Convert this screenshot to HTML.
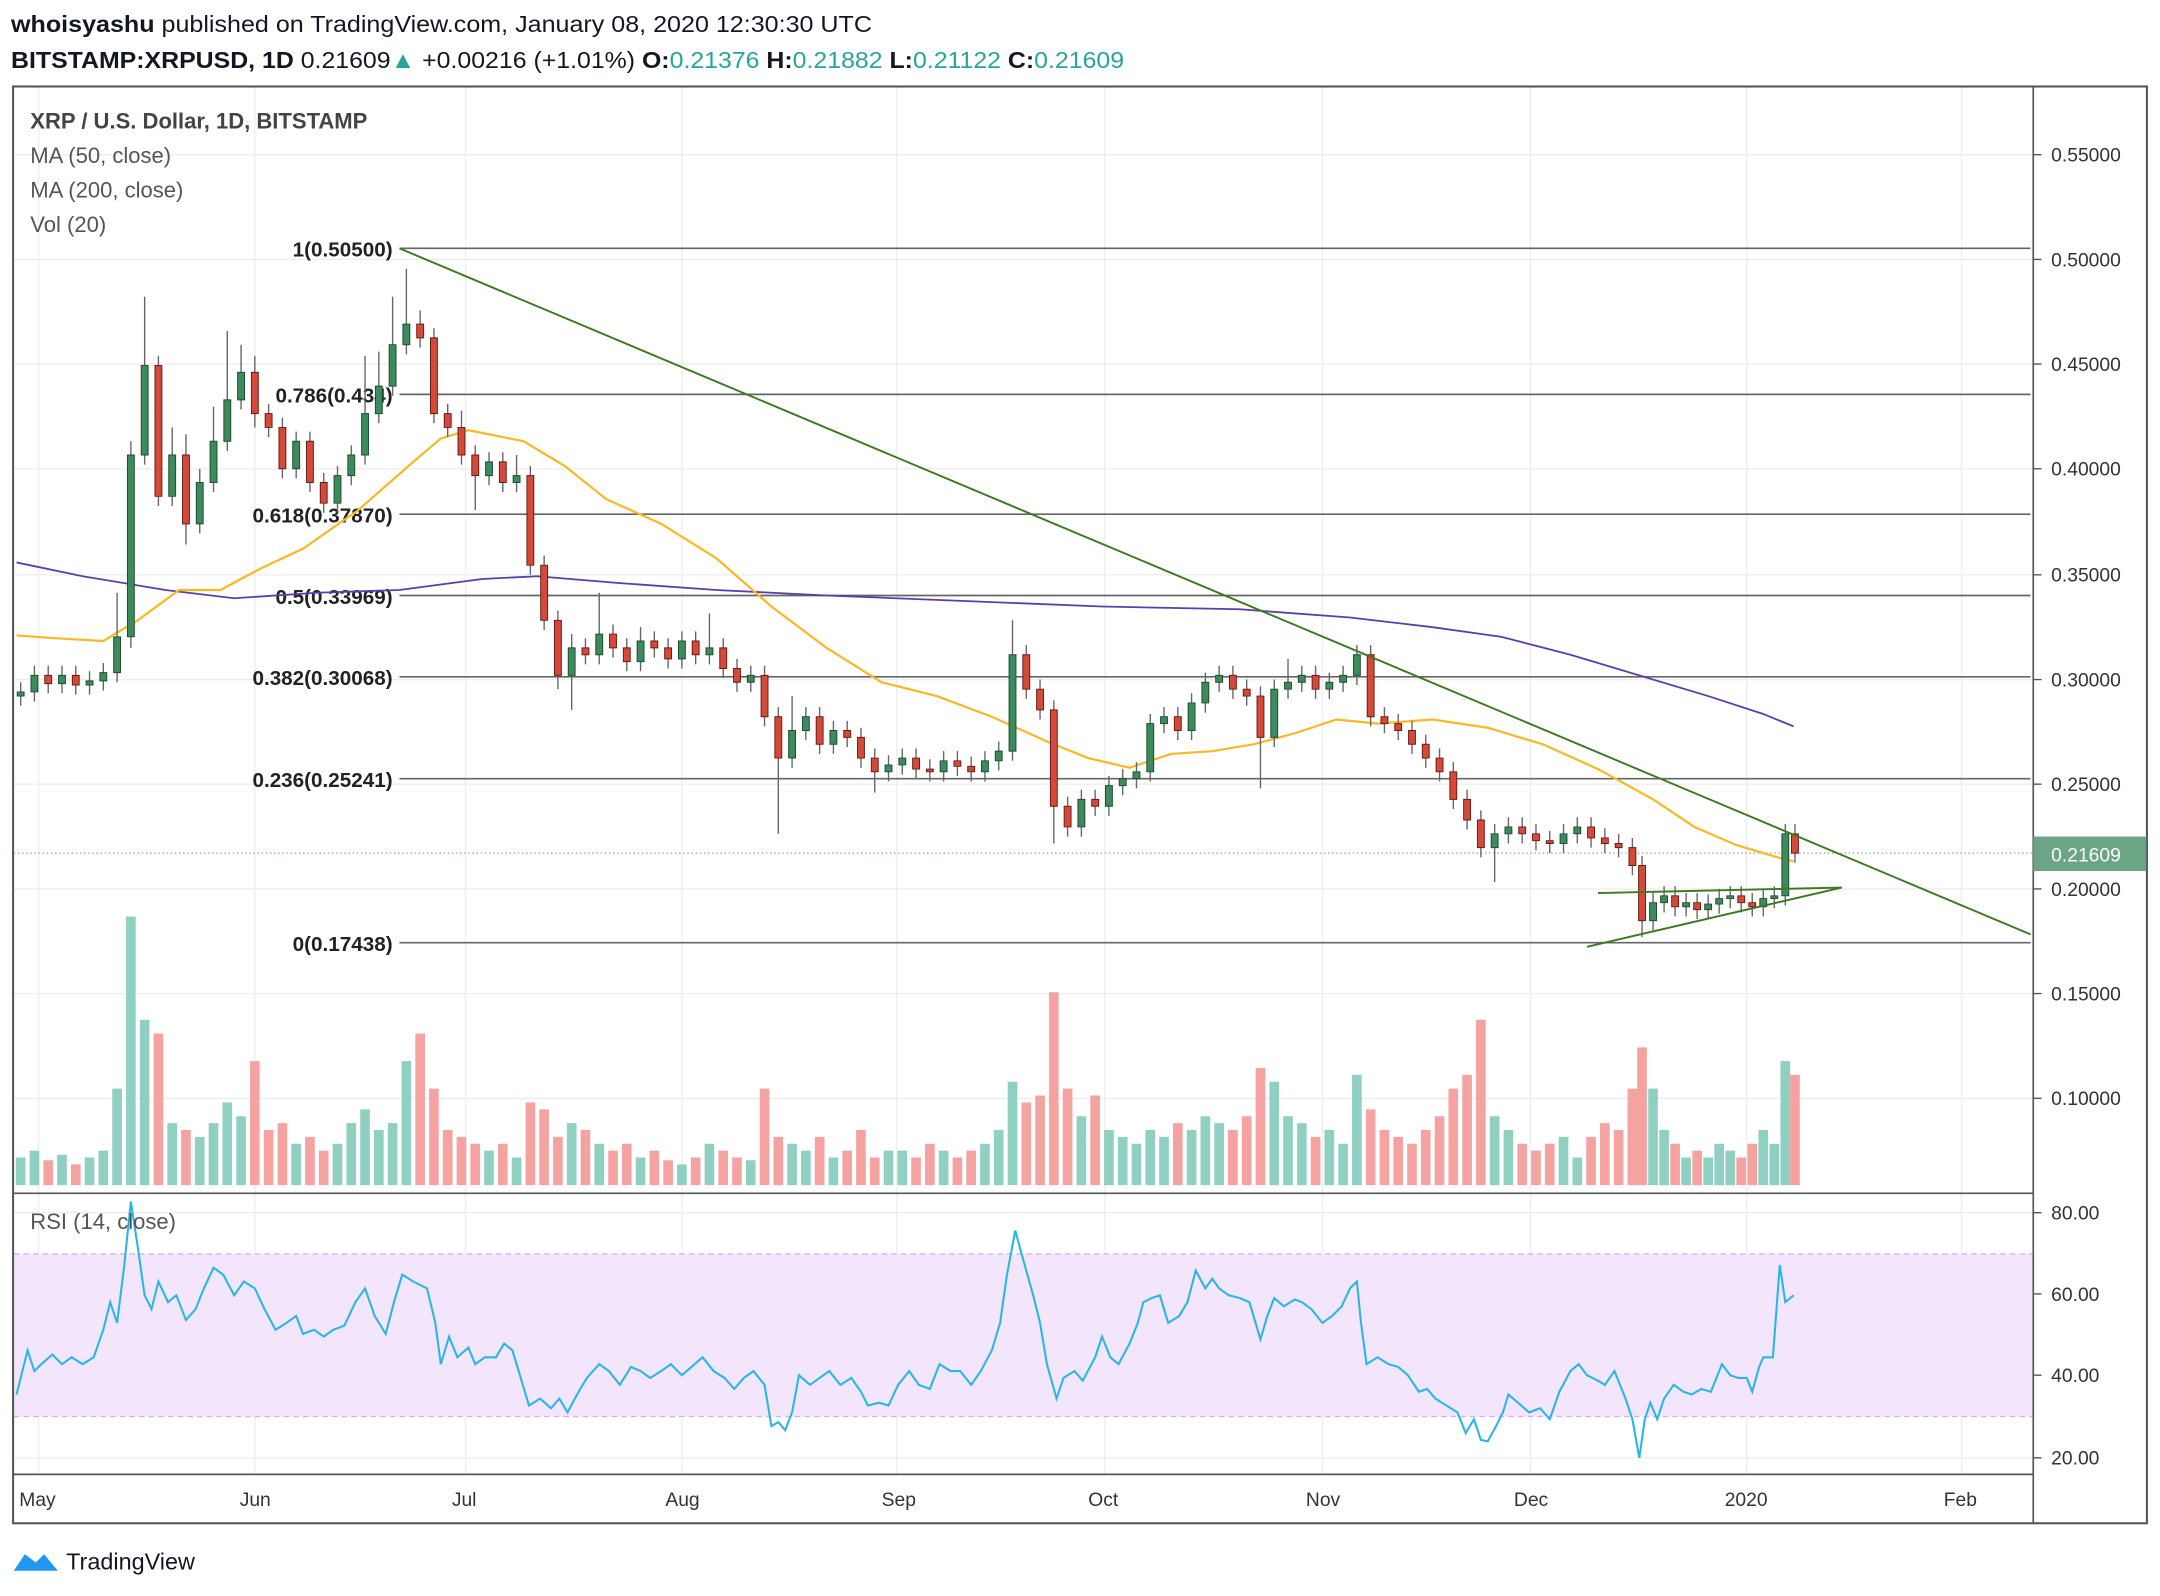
<!DOCTYPE html>
<html><head><meta charset="utf-8"><style>
html,body{margin:0;padding:0;background:#fff;}
svg{display:block;}
text{font-family:"Liberation Sans",sans-serif;}
</style></head><body>
<svg width="2160" height="1596" viewBox="0 0 1568 1158" xmlns="http://www.w3.org/2000/svg">
<rect width="1568" height="1158" fill="#fff"/>
<text x="8" y="23" font-size="17" fill="#131722" textLength="625" lengthAdjust="spacingAndGlyphs"><tspan font-weight="bold">whoisyashu</tspan> published on TradingView.com, January 08, 2020 12:30:30 UTC</text>
<text x="8" y="49" font-size="17" fill="#131722" textLength="808" lengthAdjust="spacingAndGlyphs"><tspan font-weight="bold">BITSTAMP:XRPUSD, 1D</tspan> 0.21609<tspan fill="#26a69a">▲</tspan> +0.00216 (+1.01%) <tspan font-weight="bold">O:</tspan><tspan fill="#26a69a">0.21376</tspan> <tspan font-weight="bold">H:</tspan><tspan fill="#26a69a">0.21882</tspan> <tspan font-weight="bold">L:</tspan><tspan fill="#26a69a">0.21122</tspan> <tspan font-weight="bold">C:</tspan><tspan fill="#26a69a">0.21609</tspan></text>
<g stroke="#eeeeee" stroke-width="1">
<path d="M28 63V1070M185 63V1070M338 63V1070M495 63V1070M651 63V1070M802 63V1070M960 63V1070M1111 63V1070M1268 63V1070M1424 63V1070"/>
<path d="M10 112H1476M10 188H1476M10 264H1476M10 340H1476M10 417H1476M10 493H1476M10 569H1476M10 645H1476M10 721H1476M10 797H1476M10 880H1476M10 939H1476M10 998H1476M10 1058H1476"/>
</g>
<rect x="10" y="910" width="1466" height="118" fill="#f3e5fb"/>
<line x1="10" y1="910" x2="1476" y2="910" stroke="#d9b3e6" stroke-dasharray="4,3"/>
<line x1="10" y1="1028" x2="1476" y2="1028" stroke="#d9b3e6" stroke-dasharray="4,3"/>
<rect x="9.5" y="62.5" width="1549" height="1043" fill="none" stroke="#555" stroke-width="1.5"/>
<line x1="1476" y1="62" x2="1476" y2="1106" stroke="#555" stroke-width="1.2"/>
<line x1="9" y1="866" x2="1476" y2="866" stroke="#555" stroke-width="1.2"/>
<line x1="9" y1="1070" x2="1476" y2="1070" stroke="#555" stroke-width="1.2"/>
<!-- volume -->
<path fill="#8fd0c3" d="M11.5 840h7V860h-7zM21.5 835h7V860h-7zM41.5 838h7V860h-7zM61.5 840h7V860h-7zM71.5 835h7V860h-7zM81.5 790h7V860h-7zM91.5 665h7V860h-7zM101.5 740h7V860h-7zM121.5 815h7V860h-7zM141.5 825h7V860h-7zM151.5 815h7V860h-7zM161.5 800h7V860h-7zM171.5 810h7V860h-7zM211.5 830h7V860h-7zM241.5 830h7V860h-7zM251.5 815h7V860h-7zM261.5 805h7V860h-7zM271.5 820h7V860h-7zM281.5 815h7V860h-7zM291.5 770h7V860h-7zM351.5 835h7V860h-7zM371.5 840h7V860h-7zM411.5 815h7V860h-7zM431.5 830h7V860h-7zM461.5 840h7V860h-7zM491.5 845h7V860h-7zM511.5 830h7V860h-7zM541.5 842h7V860h-7zM571.5 830h7V860h-7zM581.5 835h7V860h-7zM601.5 840h7V860h-7zM641.5 835h7V860h-7zM651.5 835h7V860h-7zM681.5 835h7V860h-7zM711.5 830h7V860h-7zM721.5 820h7V860h-7zM731.5 785h7V860h-7zM781.5 810h7V860h-7zM801.5 820h7V860h-7zM811.5 825h7V860h-7zM821.5 830h7V860h-7zM831.5 820h7V860h-7zM841.5 825h7V860h-7zM861.5 820h7V860h-7zM871.5 810h7V860h-7zM881.5 815h7V860h-7zM921.5 785h7V860h-7zM931.5 810h7V860h-7zM941.5 815h7V860h-7zM961.5 820h7V860h-7zM971.5 830h7V860h-7zM981.5 780h7V860h-7zM1081.5 810h7V860h-7zM1091.5 820h7V860h-7zM1131.5 825h7V860h-7zM1141.5 840h7V860h-7zM1196.5 790h7V860h-7zM1204.5 820h7V860h-7zM1220.5 840h7V860h-7zM1236.5 840h7V860h-7zM1244.5 830h7V860h-7zM1252.5 835h7V860h-7zM1276.5 820h7V860h-7zM1284.5 830h7V860h-7zM1292.5 770h7V860h-7z"/>
<path fill="#f4a3a0" d="M31.5 842h7V860h-7zM51.5 845h7V860h-7zM111.5 750h7V860h-7zM131.5 820h7V860h-7zM181.5 770h7V860h-7zM191.5 820h7V860h-7zM201.5 815h7V860h-7zM221.5 825h7V860h-7zM231.5 835h7V860h-7zM301.5 750h7V860h-7zM311.5 790h7V860h-7zM321.5 820h7V860h-7zM331.5 825h7V860h-7zM341.5 830h7V860h-7zM361.5 830h7V860h-7zM381.5 800h7V860h-7zM391.5 805h7V860h-7zM401.5 825h7V860h-7zM421.5 820h7V860h-7zM441.5 835h7V860h-7zM451.5 830h7V860h-7zM471.5 835h7V860h-7zM481.5 842h7V860h-7zM501.5 840h7V860h-7zM521.5 835h7V860h-7zM531.5 840h7V860h-7zM551.5 790h7V860h-7zM561.5 825h7V860h-7zM591.5 825h7V860h-7zM611.5 835h7V860h-7zM621.5 820h7V860h-7zM631.5 840h7V860h-7zM661.5 840h7V860h-7zM671.5 830h7V860h-7zM691.5 840h7V860h-7zM701.5 835h7V860h-7zM741.5 800h7V860h-7zM751.5 795h7V860h-7zM761.5 720h7V860h-7zM771.5 790h7V860h-7zM791.5 795h7V860h-7zM851.5 815h7V860h-7zM891.5 820h7V860h-7zM901.5 810h7V860h-7zM911.5 775h7V860h-7zM951.5 825h7V860h-7zM991.5 805h7V860h-7zM1001.5 820h7V860h-7zM1011.5 825h7V860h-7zM1021.5 830h7V860h-7zM1031.5 820h7V860h-7zM1041.5 810h7V860h-7zM1051.5 790h7V860h-7zM1061.5 780h7V860h-7zM1071.5 740h7V860h-7zM1101.5 830h7V860h-7zM1111.5 835h7V860h-7zM1121.5 830h7V860h-7zM1151.5 825h7V860h-7zM1161.5 815h7V860h-7zM1171.5 820h7V860h-7zM1181.5 790h7V860h-7zM1188.5 760h7V860h-7zM1212.5 830h7V860h-7zM1228.5 835h7V860h-7zM1260.5 840h7V860h-7zM1268.5 830h7V860h-7zM1299.5 780h7V860h-7z"/>
<!-- fib -->
<g stroke="#666" stroke-width="1.2">
<path d="M290 180H1474M290 286H1474M290 373H1474M290 432H1474M290 491H1474M290 565H1474M290 684H1474"/>
</g>
<g font-size="15" font-weight="bold" fill="#222" text-anchor="end">
<text x="285" y="186">1(0.50500)</text>
<text x="285" y="292">0.786(0.434)</text>
<text x="285" y="379">0.618(0.37870)</text>
<text x="285" y="438">0.5(0.33969)</text>
<text x="285" y="497">0.382(0.30068)</text>
<text x="285" y="571">0.236(0.25241)</text>
<text x="285" y="690">0(0.17438)</text>
</g>
<line x1="10" y1="619" x2="1476" y2="619" stroke="#7fb89a" stroke-dasharray="1,2"/>
<polyline fill="none" stroke="#5b3ea8" stroke-width="1.3" points="12,408 60,418 120,428 170,434 230,430 290,428 350,420 390,418 450,423 520,428 600,432 700,436 800,440 900,442 980,448 1040,455 1090,462 1140,475 1190,490 1240,505 1280,518 1302,527"/>
<polyline fill="none" stroke="#f9b824" stroke-width="1.6" points="12,461 40,463 75,465 100,450 130,428 160,428 190,412 220,398 260,370 300,335 320,318 340,312 380,320 410,338 440,362 480,380 520,405 560,440 600,470 640,495 680,505 720,520 760,538 790,550 820,557 850,547 880,545 910,540 940,532 970,522 1000,525 1040,522 1080,528 1120,540 1160,558 1200,580 1230,600 1260,613 1290,622 1302,625"/>
<!-- candles -->
<path fill="none" stroke="#666" stroke-width="1" d="M15 495V512M25 483V509M35 483V503M45 483V503M55 483V504M65 487V504M75 481V501M85 430V495M95 320V470M105 215V337M115 258V367M125 310V367M135 315V395M145 340V387M155 295V357M165 240V327M175 250V297M185 258V310M195 293V317M205 303V347M215 313V347M225 313V357M235 343V372M245 338V372M255 323V352M265 258V337M275 255V307M285 215V287M295 195V257M305 225V252M315 238V307M325 293V317M335 298V337M345 323V370M355 328V352M365 328V357M375 330V357M385 338V417M395 403V457M405 443V500M415 460V515M425 463V482M435 430V482M445 453V477M455 463V487M465 455V487M475 458V477M485 463V485M495 458V485M505 458V482M515 445V482M525 463V492M535 478V502M545 483V502M555 483V527M565 513V605M575 505V557M585 513V537M595 513V547M605 523V547M615 523V542M625 528V557M635 543V575M645 548V567M655 543V562M665 543V565M675 551V567M685 545V567M695 545V563M705 549V567M715 545V567M725 538V559M735 450V552M745 468V507M755 493V522M765 508V612M775 578V607M785 573V607M795 573V592M805 563V592M815 558V577M825 553V572M835 518V567M845 513V532M855 513V537M865 503V537M875 488V517M885 483V502M895 483V507M905 493V512M915 498V572M925 493V542M935 478V507M945 483V502M955 483V507M965 488V507M975 483V502M985 468V497M995 468V527M1005 513V532M1015 518V537M1025 523V547M1035 533V557M1045 543V567M1055 553V587M1065 573V602M1075 588V622M1085 598V640M1095 593V612M1105 593V612M1115 598V617M1125 603V619M1135 598V619M1145 593V612M1155 593V615M1165 601V619M1175 605V622M1185 608V635M1192 621V680M1200 648V675M1208 643V662M1216 643V665M1224 648V665M1232 648V667M1240 649V667M1248 645V663M1256 643V659M1264 643V662M1272 648V665M1280 645V665M1288 643V659M1296 598V657M1303 598V626"/>
<path fill="#3d8a5c" stroke="#1e4d30" stroke-width="0.7" d="M12.5 502h5v3h-5zM22.5 490h5v12h-5zM42.5 490h5v6h-5zM62.5 494h5v3h-5zM72.5 488h5v6h-5zM82.5 462h5v26h-5zM92.5 330h5v132h-5zM102.5 265h5v65h-5zM122.5 330h5v30h-5zM142.5 350h5v30h-5zM152.5 320h5v30h-5zM162.5 290h5v30h-5zM172.5 270h5v20h-5zM212.5 320h5v20h-5zM242.5 345h5v20h-5zM252.5 330h5v15h-5zM262.5 300h5v30h-5zM272.5 280h5v20h-5zM282.5 250h5v30h-5zM292.5 235h5v15h-5zM352.5 335h5v10h-5zM372.5 345h5v5h-5zM412.5 470h5v20h-5zM432.5 460h5v15h-5zM462.5 465h5v15h-5zM492.5 465h5v13h-5zM512.5 470h5v5h-5zM542.5 490h5v5h-5zM572.5 530h5v20h-5zM582.5 520h5v10h-5zM602.5 530h5v10h-5zM642.5 555h5v5h-5zM652.5 550h5v5h-5zM682.5 552h5v8h-5zM712.5 552h5v8h-5zM722.5 545h5v7h-5zM732.5 475h5v70h-5zM782.5 580h5v20h-5zM802.5 570h5v15h-5zM812.5 565h5v5h-5zM822.5 560h5v5h-5zM832.5 525h5v35h-5zM842.5 520h5v5h-5zM862.5 510h5v20h-5zM872.5 495h5v15h-5zM882.5 490h5v5h-5zM922.5 500h5v35h-5zM932.5 495h5v5h-5zM942.5 490h5v5h-5zM962.5 495h5v5h-5zM972.5 490h5v5h-5zM982.5 475h5v15h-5zM1082.5 605h5v10h-5zM1092.5 600h5v5h-5zM1132.5 605h5v7h-5zM1142.5 600h5v5h-5zM1197.5 655h5v13h-5zM1205.5 650h5v5h-5zM1221.5 655h5v3h-5zM1237.5 656h5v4h-5zM1245.5 652h5v4h-5zM1253.5 650h5v2h-5zM1277.5 652h5v6h-5zM1285.5 650h5v2h-5zM1293.5 605h5v45h-5z"/>
<path fill="#d44a3a" stroke="#6b1a14" stroke-width="0.7" d="M32.5 490h5v6h-5zM52.5 490h5v7h-5zM112.5 265h5v95h-5zM132.5 330h5v50h-5zM182.5 270h5v30h-5zM192.5 300h5v10h-5zM202.5 310h5v30h-5zM222.5 320h5v30h-5zM232.5 350h5v15h-5zM302.5 235h5v10h-5zM312.5 245h5v55h-5zM322.5 300h5v10h-5zM332.5 310h5v20h-5zM342.5 330h5v15h-5zM362.5 335h5v15h-5zM382.5 345h5v65h-5zM392.5 410h5v40h-5zM402.5 450h5v40h-5zM422.5 470h5v5h-5zM442.5 460h5v10h-5zM452.5 470h5v10h-5zM472.5 465h5v5h-5zM482.5 470h5v8h-5zM502.5 465h5v10h-5zM522.5 470h5v15h-5zM532.5 485h5v10h-5zM552.5 490h5v30h-5zM562.5 520h5v30h-5zM592.5 520h5v20h-5zM612.5 530h5v5h-5zM622.5 535h5v15h-5zM632.5 550h5v10h-5zM662.5 550h5v8h-5zM672.5 558h5v2h-5zM692.5 552h5v4h-5zM702.5 556h5v4h-5zM742.5 475h5v25h-5zM752.5 500h5v15h-5zM762.5 515h5v70h-5zM772.5 585h5v15h-5zM792.5 580h5v5h-5zM852.5 520h5v10h-5zM892.5 490h5v10h-5zM902.5 500h5v5h-5zM912.5 505h5v30h-5zM952.5 490h5v10h-5zM992.5 475h5v45h-5zM1002.5 520h5v5h-5zM1012.5 525h5v5h-5zM1022.5 530h5v10h-5zM1032.5 540h5v10h-5zM1042.5 550h5v10h-5zM1052.5 560h5v20h-5zM1062.5 580h5v15h-5zM1072.5 595h5v20h-5zM1102.5 600h5v5h-5zM1112.5 605h5v5h-5zM1122.5 610h5v2h-5zM1152.5 600h5v8h-5zM1162.5 608h5v4h-5zM1172.5 612h5v3h-5zM1182.5 615h5v13h-5zM1189.5 628h5v40h-5zM1213.5 650h5v8h-5zM1229.5 655h5v5h-5zM1261.5 650h5v5h-5zM1269.5 655h5v3h-5zM1300.5 605h5v14h-5z"/>
<g stroke="#3b7a1f" stroke-width="1.4" fill="none">
<line x1="290" y1="180" x2="1474" y2="678"/>
<line x1="1160" y1="648" x2="1337" y2="644"/>
<line x1="1152" y1="687" x2="1337" y2="644"/>
</g>
<polyline fill="none" stroke="#29b6e6" stroke-width="1.5" points="12,1012 20,980 25,995 30,990 38,983 45,990 52,985 60,990 68,985 75,965 80,945 85,960 90,920 95,872 100,905 105,940 110,950 115,930 122,945 128,940 135,958 142,950 148,935 155,920 162,925 170,940 177,930 185,935 192,950 200,965 208,960 215,955 220,968 228,965 235,970 242,965 250,962 258,945 265,935 272,955 280,968 286,945 292,925 300,930 310,935 316,960 320,990 326,970 332,985 340,978 345,990 352,985 360,985 366,975 372,980 378,1000 384,1020 392,1015 400,1022 406,1015 412,1025 420,1010 426,1000 435,990 442,995 450,1005 458,992 465,995 472,1000 480,995 487,990 495,998 502,992 510,985 518,995 526,1000 533,1008 540,1000 547,995 555,1005 560,1035 565,1032 570,1038 575,1025 580,998 588,1005 595,1000 602,995 610,1005 618,1000 625,1010 630,1020 638,1018 645,1020 652,1005 660,995 667,1005 675,1008 682,990 690,995 697,995 705,1005 712,995 720,980 726,960 731,925 737,893 743,915 750,940 755,960 760,990 767,1015 772,1000 780,995 786,1002 795,985 800,970 806,985 812,990 820,975 826,960 830,945 836,942 842,940 848,960 856,955 862,945 868,922 875,935 880,928 885,935 892,940 900,942 907,945 915,972 920,955 925,942 932,948 940,943 945,945 952,950 960,960 967,955 974,948 980,935 985,930 988,960 992,990 1000,985 1008,990 1015,992 1022,998 1030,1010 1036,1008 1042,1015 1050,1020 1058,1025 1064,1040 1070,1030 1075,1045 1080,1046 1086,1035 1091,1025 1095,1012 1102,1018 1110,1025 1118,1022 1125,1030 1132,1010 1140,995 1146,990 1152,998 1160,1002 1165,1005 1172,995 1180,1015 1185,1030 1190,1058 1194,1030 1198,1018 1203,1030 1208,1015 1215,1005 1222,1010 1228,1012 1235,1008 1242,1010 1250,990 1256,998 1262,1000 1268,1000 1272,1010 1277,992 1280,985 1287,985 1292,918 1296,945 1302,940"/>
<g font-size="16">
<text x="22" y="93" font-weight="bold" fill="#444">XRP / U.S. Dollar, 1D, BITSTAMP</text>
<text x="22" y="118" fill="#555">MA (50, close)</text>
<text x="22" y="143" fill="#555">MA (200, close)</text>
<text x="22" y="168" fill="#555">Vol (20)</text>
<text x="22" y="892" fill="#555">RSI (14, close)</text>
</g>
<g stroke="#555" stroke-width="1">
<path d="M1476 112h6M1476 188h6M1476 264h6M1476 340h6M1476 417h6M1476 493h6M1476 569h6M1476 645h6M1476 721h6M1476 797h6M1476 880h6M1476 939h6M1476 998h6M1476 1058h6"/>
</g>
<g font-size="14" fill="#333">
<text x="1489" y="117">0.55000</text>
<text x="1489" y="193">0.50000</text>
<text x="1489" y="269">0.45000</text>
<text x="1489" y="345">0.40000</text>
<text x="1489" y="422">0.35000</text>
<text x="1489" y="498">0.30000</text>
<text x="1489" y="574">0.25000</text>
<text x="1489" y="650">0.20000</text>
<text x="1489" y="726">0.15000</text>
<text x="1489" y="802">0.10000</text>
<text x="1489" y="885">80.00</text>
<text x="1489" y="944">60.00</text>
<text x="1489" y="1003">40.00</text>
<text x="1489" y="1063">20.00</text>
</g>
<rect x="1476" y="607" width="82" height="25" fill="#6aa686"/>
<text x="1489" y="625" font-size="14" fill="#fff">0.21609</text>
<g font-size="14" fill="#333">
<text x="14" y="1093">May</text><text x="174" y="1093">Jun</text><text x="328" y="1093">Jul</text><text x="483" y="1093">Aug</text><text x="640" y="1093">Sep</text><text x="790" y="1093">Oct</text><text x="948" y="1093">Nov</text><text x="1099" y="1093">Dec</text><text x="1252" y="1093">2020</text><text x="1411" y="1093">Feb</text>
</g>
<path d="M10 1140 l8 -12 l8 6 l6 -6 l10 12 z" fill="#2196f3"/>
<text x="48" y="1139" font-size="17" fill="#131722">TradingView</text>
</svg>
</body></html>
